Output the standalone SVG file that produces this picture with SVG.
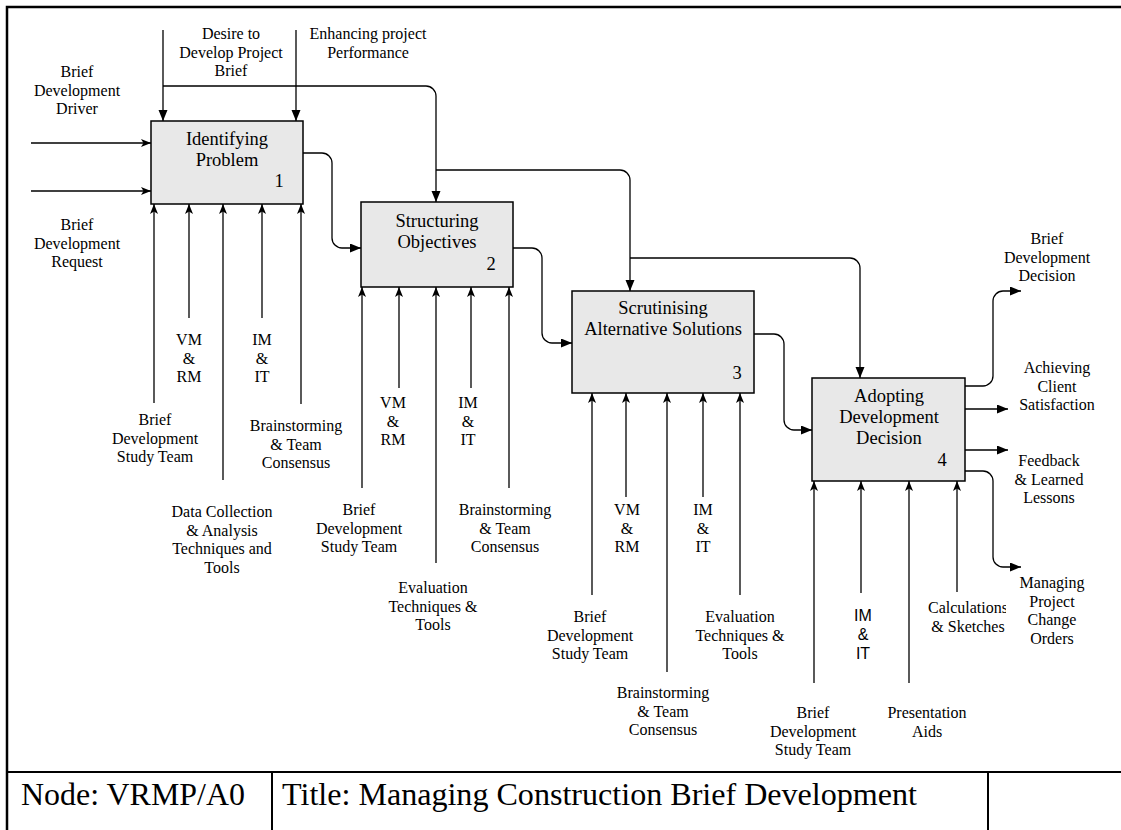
<svg xmlns="http://www.w3.org/2000/svg" width="1121" height="830" viewBox="0 0 1121 830">
  <defs>
    <style>
      .lbl { font-family: "Liberation Serif", "Times New Roman", serif; font-size: 16px; text-anchor: middle; fill: #000; }
      .sans { font-family: "Liberation Sans", Arial, sans-serif; font-size: 16px; text-anchor: middle; fill: #000; }
      .bt { font-family: "Liberation Serif", "Times New Roman", serif; font-size: 18.5px; text-anchor: middle; fill: #000; }
      .num { font-family: "Liberation Serif", "Times New Roman", serif; font-size: 18.5px; text-anchor: middle; fill: #000; }
      .box { fill: #e8e8e8; stroke: #000; stroke-width: 1.5; }
      .cn { fill: none; stroke: #000; stroke-width: 1.3; }
      .frame { fill: none; stroke: #000; stroke-width: 2.5; }
      .rule { fill: none; stroke: #000; stroke-width: 2; }
      .ttl { font-family: "Liberation Serif", "Times New Roman", serif; font-size: 31px; fill: #000; }
    </style>
    <marker id="tri" markerUnits="userSpaceOnUse" markerWidth="12" markerHeight="10" refX="11" refY="4.5" orient="auto">
      <path d="M0,0 L11,4.5 L0,9 z" fill="#000"/>
    </marker>
    <marker id="stl" markerUnits="userSpaceOnUse" markerWidth="12" markerHeight="10" refX="10" refY="4" orient="auto">
      <path d="M0,0 L10,4 L0,8 L2.5,4 z" fill="#000"/>
    </marker>
    <clipPath id="calcClip">
      <rect x="900" y="590" width="106" height="60"/>
    </clipPath>
  </defs>

  <rect width="1121" height="830" fill="#fff"/>

  <!-- sheet frame and title strip -->
  <g id="frame">
    <rect class="frame" x="7" y="7" width="1130" height="840"/>
    <line class="rule" x1="7" y1="772" x2="1121" y2="772"/>
    <line class="rule" x1="272" y1="772" x2="272" y2="830"/>
    <line class="rule" x1="988" y1="772" x2="988" y2="830"/>
    <text class="ttl" x="21" y="805" textLength="224" lengthAdjust="spacingAndGlyphs">Node: VRMP/A0</text>
    <text class="ttl" x="282" y="805" textLength="635" lengthAdjust="spacingAndGlyphs">Title: Managing Construction Brief Development</text>
  </g>

  <!-- activity boxes -->
  <g id="n1">
    <rect class="box" x="151" y="121" width="152" height="83"/>
    <text class="bt" x="227" y="145">Identifying</text>
    <text class="bt" x="227" y="166">Problem</text>
    <text class="num" x="279" y="187">1</text>
  </g>
  <g id="n2">
    <rect class="box" x="361" y="202" width="152" height="85"/>
    <text class="bt" x="437" y="227">Structuring</text>
    <text class="bt" x="437" y="248">Objectives</text>
    <text class="num" x="491" y="270">2</text>
  </g>
  <g id="n3">
    <rect class="box" x="572" y="291" width="182" height="102"/>
    <text class="bt" x="663" y="314">Scrutinising</text>
    <text class="bt" x="663" y="335">Alternative Solutions</text>
    <text class="num" x="737" y="379">3</text>
  </g>
  <g id="n4">
    <rect class="box" x="812" y="378" width="153" height="103"/>
    <text class="bt" x="889" y="402">Adopting</text>
    <text class="bt" x="889" y="423">Development</text>
    <text class="bt" x="889" y="444">Decision</text>
    <text class="num" x="942" y="466">4</text>
  </g>

  <!-- arrows: controls, inputs, outputs and mechanisms -->
  <g id="connectors">
    <!-- controls -->
    <path class="cn" d="M163,30 V121" marker-end="url(#tri)"/>
    <path class="cn" d="M296,30 V121" marker-end="url(#tri)"/>
    <path class="cn" d="M163,86 H426 A10,10 0 0 1 436,96 V202" marker-end="url(#tri)"/>
    <path class="cn" d="M436,170 H620 A10,10 0 0 1 630,180 V291" marker-end="url(#tri)"/>
    <path class="cn" d="M630,258 H850 A10,10 0 0 1 860,268 V378" marker-end="url(#tri)"/>
    <!-- inputs -->
    <path class="cn" d="M31,143 H151" marker-end="url(#stl)"/>
    <path class="cn" d="M31,191 H151" marker-end="url(#stl)"/>
    <!-- box to box -->
    <path class="cn" d="M303,153 H322 A10,10 0 0 1 332,163 V238 A10,10 0 0 0 342,248 H361" marker-end="url(#tri)"/>
    <path class="cn" d="M513,248 H532 A10,10 0 0 1 542,258 V333 A10,10 0 0 0 552,343 H572" marker-end="url(#tri)"/>
    <path class="cn" d="M754,334 H774 A10,10 0 0 1 784,344 V420 A10,10 0 0 0 794,430 H812" marker-end="url(#tri)"/>
    <!-- outputs -->
    <path class="cn" d="M965,386 H983 A10,10 0 0 0 993,376 V301 A10,10 0 0 1 1003,291 H1021" marker-end="url(#tri)"/>
    <path class="cn" d="M965,409 H1008" marker-end="url(#tri)"/>
    <path class="cn" d="M965,450 H1008" marker-end="url(#tri)"/>
    <path class="cn" d="M965,471 H983 A10,10 0 0 1 993,481 V557 A10,10 0 0 0 1003,567 H1021" marker-end="url(#tri)"/>
    <!-- mechanisms, box 1 -->
    <path class="cn" d="M154,403 V204" marker-end="url(#stl)"/>
    <path class="cn" d="M189,318 V204" marker-end="url(#stl)"/>
    <path class="cn" d="M223,480 V204" marker-end="url(#stl)"/>
    <path class="cn" d="M262,318 V204" marker-end="url(#stl)"/>
    <path class="cn" d="M301,404 V204" marker-end="url(#stl)"/>
    <!-- mechanisms, box 2 -->
    <path class="cn" d="M362,488 V287" marker-end="url(#stl)"/>
    <path class="cn" d="M399,388 V287" marker-end="url(#stl)"/>
    <path class="cn" d="M436,563 V287" marker-end="url(#stl)"/>
    <path class="cn" d="M471,388 V287" marker-end="url(#stl)"/>
    <path class="cn" d="M509,488 V287" marker-end="url(#stl)"/>
    <!-- mechanisms, box 3 -->
    <path class="cn" d="M592,595 V393" marker-end="url(#stl)"/>
    <path class="cn" d="M626,497 V393" marker-end="url(#stl)"/>
    <path class="cn" d="M667,672 V393" marker-end="url(#stl)"/>
    <path class="cn" d="M703,497 V393" marker-end="url(#stl)"/>
    <path class="cn" d="M740,595 V393" marker-end="url(#stl)"/>
    <!-- mechanisms, box 4 -->
    <path class="cn" d="M814,683 V481" marker-end="url(#stl)"/>
    <path class="cn" d="M861,593 V481" marker-end="url(#stl)"/>
    <path class="cn" d="M909,683 V481" marker-end="url(#stl)"/>
    <path class="cn" d="M957,592 V481" marker-end="url(#stl)"/>
  </g>

  <!-- arrow labels -->
  <g id="labels">
    <text class="lbl" y="39"><tspan x="231">Desire to</tspan><tspan x="231" dy="18.5">Develop Project</tspan><tspan x="231" dy="18.5">Brief</tspan></text>
    <text class="lbl" y="39"><tspan x="368">Enhancing project</tspan><tspan x="368" dy="18.5">Performance</tspan></text>
    <text class="lbl" y="77"><tspan x="77">Brief</tspan><tspan x="77" dy="18.5">Development</tspan><tspan x="77" dy="18.5">Driver</tspan></text>
    <text class="lbl" y="230"><tspan x="77">Brief</tspan><tspan x="77" dy="18.5">Development</tspan><tspan x="77" dy="18.5">Request</tspan></text>

    <text class="lbl" y="345"><tspan x="189">VM</tspan><tspan x="189" dy="18.5">&amp;</tspan><tspan x="189" dy="18.5">RM</tspan></text>
    <text class="lbl" y="345"><tspan x="262">IM</tspan><tspan x="262" dy="18.5">&amp;</tspan><tspan x="262" dy="18.5">IT</tspan></text>
    <text class="lbl" y="425"><tspan x="155">Brief</tspan><tspan x="155" dy="18.5">Development</tspan><tspan x="155" dy="18.5">Study Team</tspan></text>
    <text class="lbl" y="431"><tspan x="296">Brainstorming</tspan><tspan x="296" dy="18.5">&amp; Team</tspan><tspan x="296" dy="18.5">Consensus</tspan></text>
    <text class="lbl" y="517"><tspan x="222">Data Collection</tspan><tspan x="222" dy="18.5">&amp; Analysis</tspan><tspan x="222" dy="18.5">Techniques and</tspan><tspan x="222" dy="18.5">Tools</tspan></text>

    <text class="lbl" y="408"><tspan x="393">VM</tspan><tspan x="393" dy="18.5">&amp;</tspan><tspan x="393" dy="18.5">RM</tspan></text>
    <text class="lbl" y="408"><tspan x="468">IM</tspan><tspan x="468" dy="18.5">&amp;</tspan><tspan x="468" dy="18.5">IT</tspan></text>
    <text class="lbl" y="515"><tspan x="359">Brief</tspan><tspan x="359" dy="18.5">Development</tspan><tspan x="359" dy="18.5">Study Team</tspan></text>
    <text class="lbl" y="515"><tspan x="505">Brainstorming</tspan><tspan x="505" dy="18.5">&amp; Team</tspan><tspan x="505" dy="18.5">Consensus</tspan></text>
    <text class="lbl" y="593"><tspan x="433">Evaluation</tspan><tspan x="433" dy="18.5">Techniques &amp;</tspan><tspan x="433" dy="18.5">Tools</tspan></text>

    <text class="lbl" y="515"><tspan x="627">VM</tspan><tspan x="627" dy="18.5">&amp;</tspan><tspan x="627" dy="18.5">RM</tspan></text>
    <text class="lbl" y="515"><tspan x="703">IM</tspan><tspan x="703" dy="18.5">&amp;</tspan><tspan x="703" dy="18.5">IT</tspan></text>
    <text class="lbl" y="622"><tspan x="590">Brief</tspan><tspan x="590" dy="18.5">Development</tspan><tspan x="590" dy="18.5">Study Team</tspan></text>
    <text class="lbl" y="622"><tspan x="740">Evaluation</tspan><tspan x="740" dy="18.5">Techniques &amp;</tspan><tspan x="740" dy="18.5">Tools</tspan></text>
    <text class="lbl" y="698"><tspan x="663">Brainstorming</tspan><tspan x="663" dy="18.5">&amp; Team</tspan><tspan x="663" dy="18.5">Consensus</tspan></text>

    <text class="sans" y="621"><tspan x="863">IM</tspan><tspan x="863" dy="19">&amp;</tspan><tspan x="863" dy="19">IT</tspan></text>
    <text class="lbl" y="613" clip-path="url(#calcClip)"><tspan x="968">Calculations</tspan><tspan x="968" dy="19">&amp; Sketches</tspan></text>
    <text class="lbl" y="718"><tspan x="813">Brief</tspan><tspan x="813" dy="18.5">Development</tspan><tspan x="813" dy="18.5">Study Team</tspan></text>
    <text class="lbl" y="718"><tspan x="927">Presentation</tspan><tspan x="927" dy="19">Aids</tspan></text>

    <text class="lbl" y="244"><tspan x="1047">Brief</tspan><tspan x="1047" dy="18.5">Development</tspan><tspan x="1047" dy="18.5">Decision</tspan></text>
    <text class="lbl" y="373"><tspan x="1057">Achieving</tspan><tspan x="1057" dy="18.5">Client</tspan><tspan x="1057" dy="18.5">Satisfaction</tspan></text>
    <text class="lbl" y="466"><tspan x="1049">Feedback</tspan><tspan x="1049" dy="18.5">&amp; Learned</tspan><tspan x="1049" dy="18.5">Lessons</tspan></text>
    <text class="lbl" y="588"><tspan x="1052">Managing</tspan><tspan x="1052" dy="18.5">Project</tspan><tspan x="1052" dy="18.5">Change</tspan><tspan x="1052" dy="18.5">Orders</tspan></text>
  </g>
</svg>
